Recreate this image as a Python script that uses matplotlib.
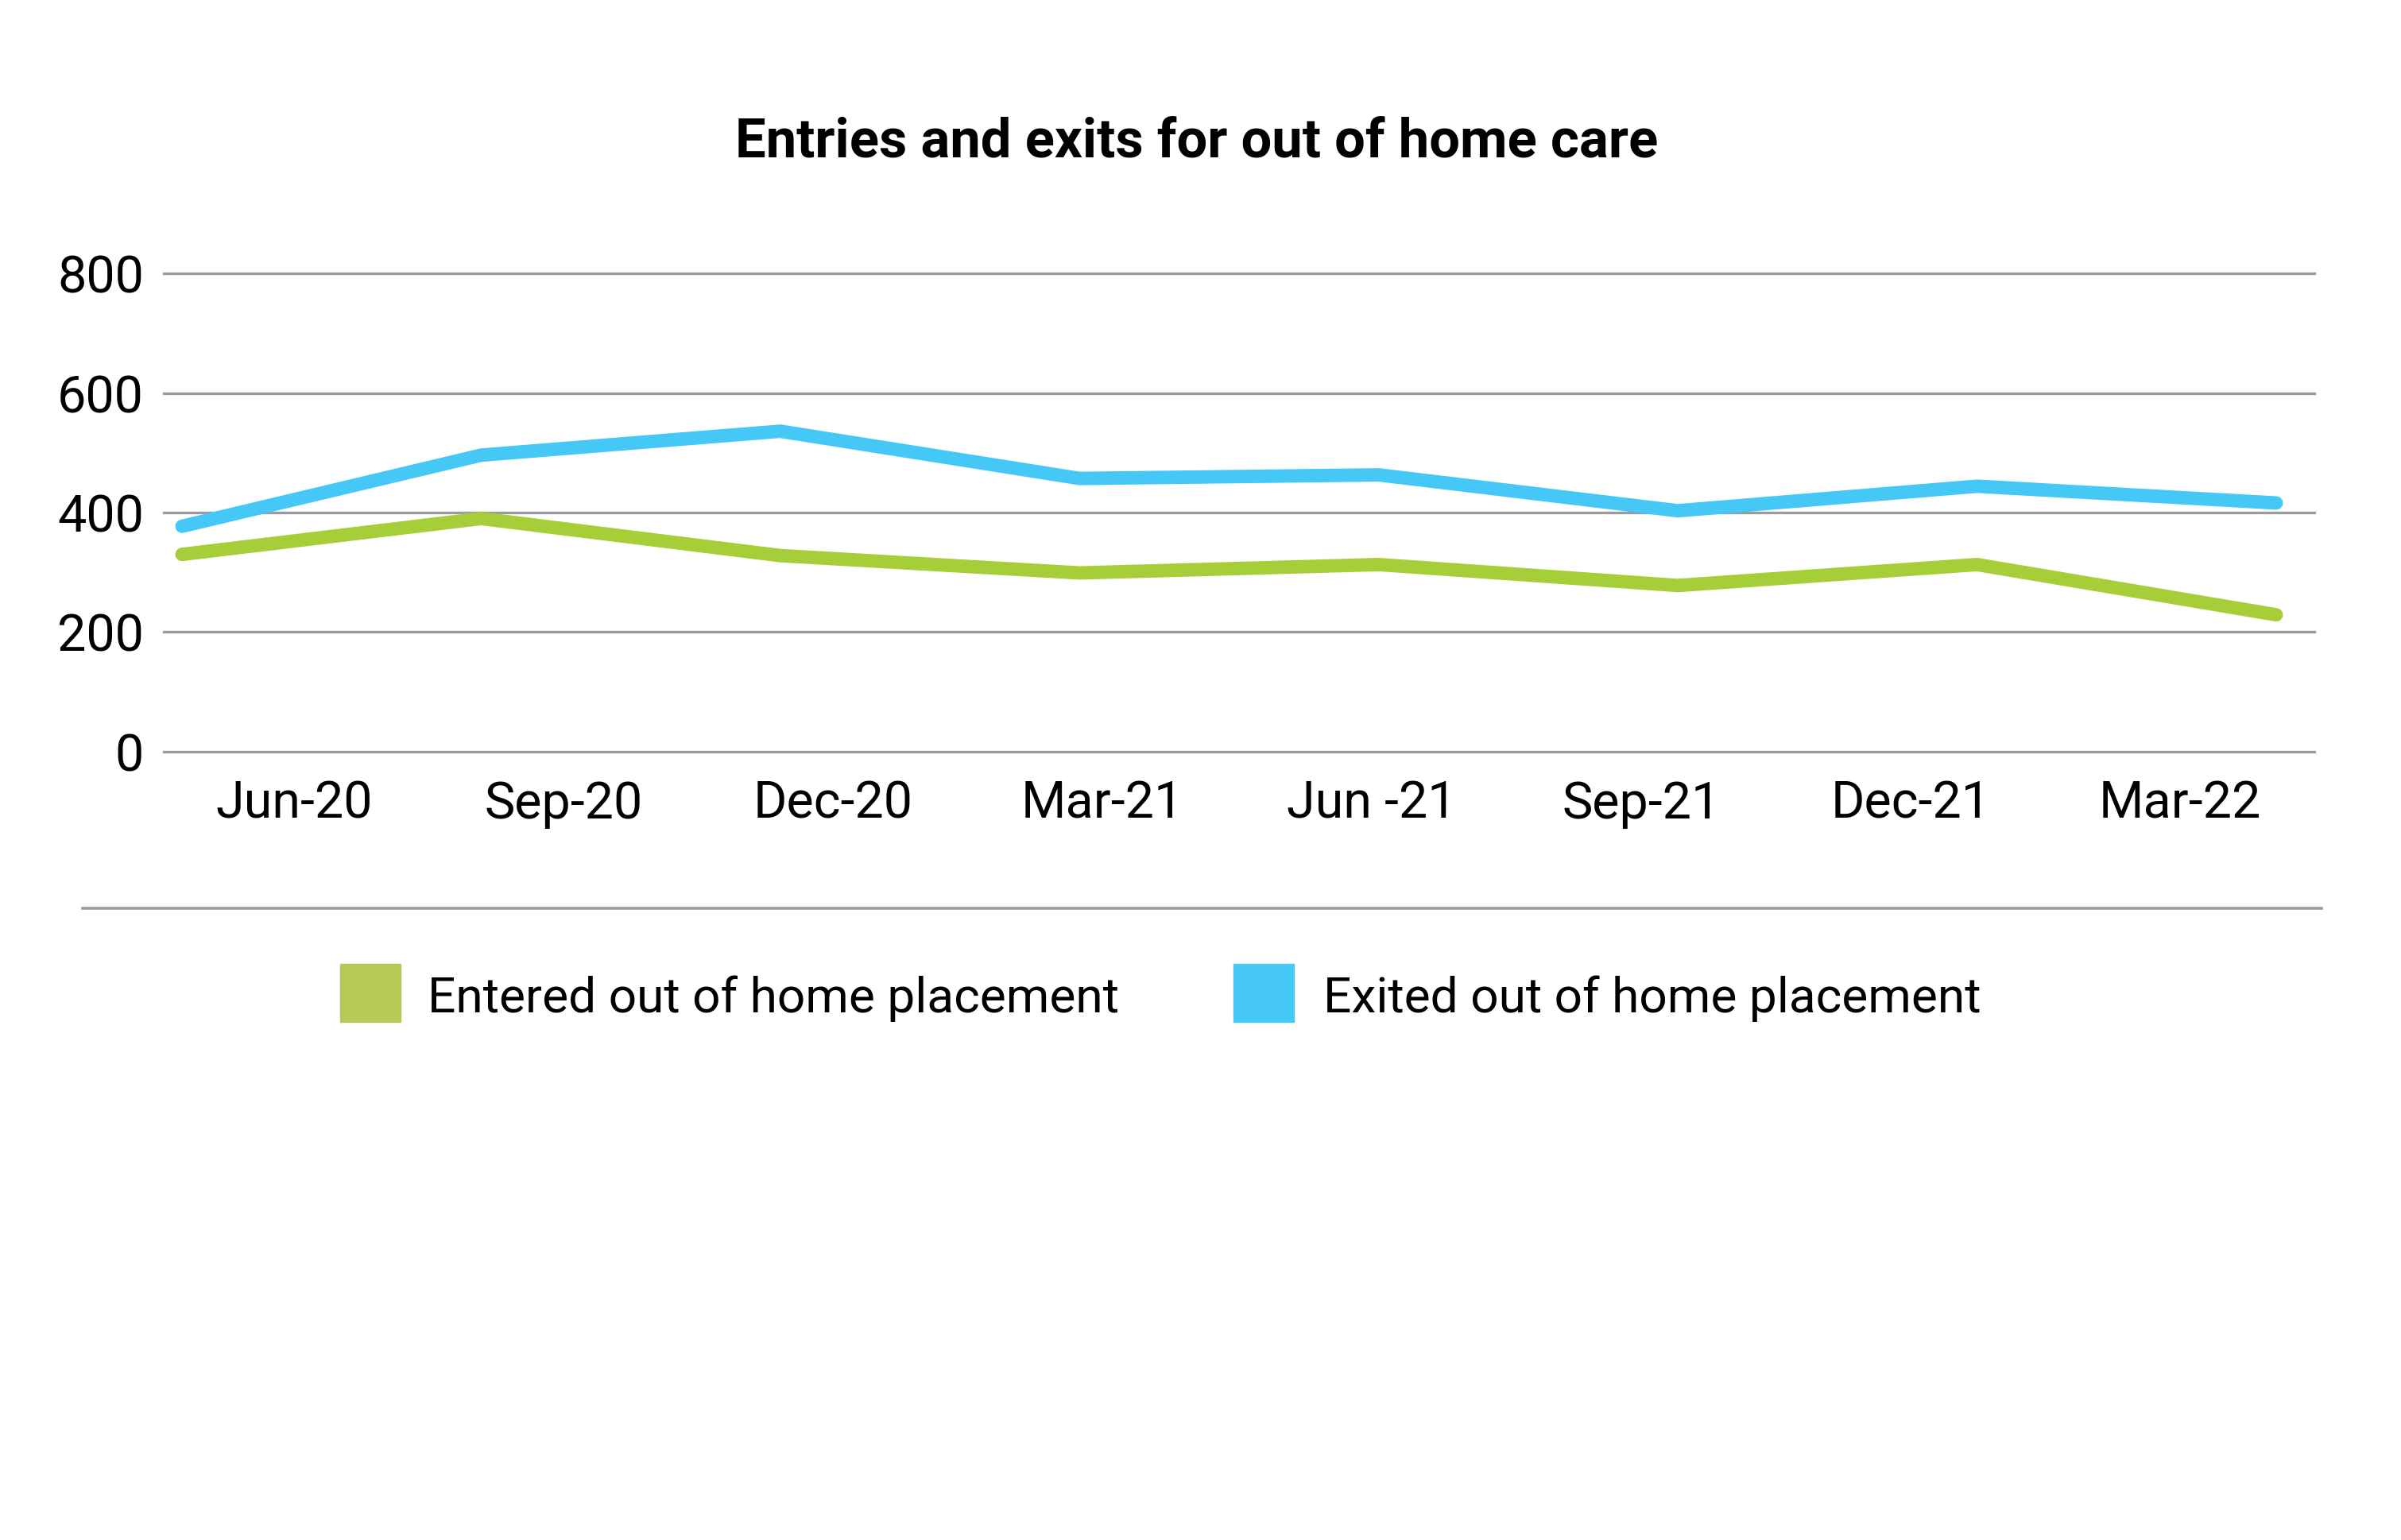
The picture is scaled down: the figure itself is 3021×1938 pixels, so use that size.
import matplotlib
matplotlib.use("Agg")
from matplotlib import pyplot as plt
from matplotlib.patches import Rectangle
from matplotlib.lines import Line2D
import numpy as np

plt.rcParams['font.family'] = ['Roboto', 'DejaVu Sans']

# data
quarters = ['Jun-20', 'Sep-20', 'Dec-20', 'Mar-21', 'Jun -21', 'Sep-21', 'Dec-21', 'Mar-22']
entered = [330, 390, 328, 299, 313, 278, 313, 229]
exited = [377, 496, 536, 457, 463, 403, 444, 416]
series_names = ['Entered out of home placement', 'Exited out of home placement']
yticks = [0, 200, 400, 600, 800]
title = 'Entries and exits for out of home care'

green_line = '#a6ce39'
blue_line = '#45c8f5'
green_patch = '#b5ca55'
blue_patch = '#45c8f5'
grid_col = '#9b9b9f'

W, H = 3021, 1938
fig = plt.figure(figsize=(W / 100, H / 100), dpi=100)

# axes placed in pixels
ax_l, ax_r, ax_b, ax_t = 206, 2912, 946, 344
ax = fig.add_axes([ax_l / W, 1 - ax_b / H, (ax_r - ax_l) / W, (ax_b - ax_t) / H])

x = np.arange(len(quarters))
first_px, last_px = 229, 2864
step = (last_px - first_px) / (len(quarters) - 1)
ax.set_xlim(-(first_px - ax_l) / step, (len(quarters) - 1) + (ax_r - last_px) / step)
ax.set_ylim(0, 800)

for v in yticks:
    ax.axhline(v, color=grid_col, lw=2.4, zorder=1, clip_on=False)

ax.plot(x, entered, color=green_line, lw=12.2, solid_capstyle='round',
        solid_joinstyle='miter', zorder=3, clip_on=False)
ax.plot(x, exited, color=blue_line, lw=12.2, solid_capstyle='round',
        solid_joinstyle='miter', zorder=3, clip_on=False)

# category labels are spaced a bit tighter than the points
lab_first, lab_step = 370, 339
lab_pos = [(lab_first - first_px + i * lab_step) / step for i in range(len(quarters))]
ax.set_xticks(lab_pos)
ax.set_xticklabels(quarters, fontsize=46.5)
ax.set_yticks(yticks)
ax.set_yticklabels([str(v) for v in yticks], fontsize=46.5)
ax.tick_params(axis='x', length=0, pad=25)
ax.tick_params(axis='y', length=0, pad=18)
for s in ax.spines.values():
    s.set_visible(False)

fig.text(1506 / W, 1 - 179 / H, title, fontsize=49.5, fontweight='bold',
         ha='center', va='center')

# separator line under the axis labels
fig.add_artist(Line2D([104 / W, 2921 / W], [1 - 1143 / H, 1 - 1143 / H],
                      color=grid_col, lw=2.6))

# legend
leg = [(428, 538, green_patch), (1552, 1665, blue_patch)]
for (px, tx, col), name in zip(leg, series_names):
    fig.patches.append(Rectangle((px / W, 1 - 1286 / H), 76 / W, 73 / H,
                                 transform=fig.transFigure, color=col))
    fig.text(tx / W, 1 - 1251 / H, name, fontsize=44.8, ha='left', va='center_baseline')

fig.savefig('out.png', dpi=100, facecolor='white')
